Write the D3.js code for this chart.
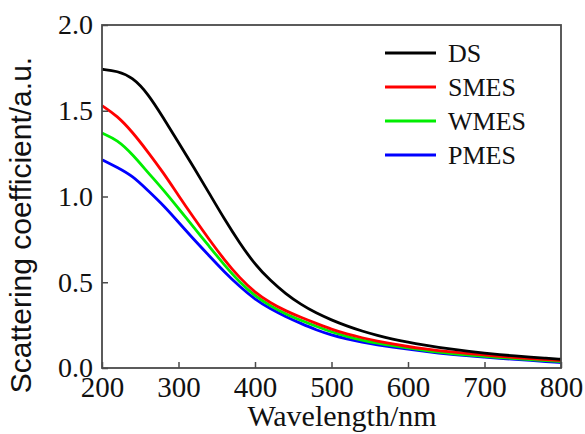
<!DOCTYPE html>
<html><head><meta charset="utf-8">
<script src="https://cdn.jsdelivr.net/npm/d3@7"></script>
<style>body{margin:0;background:#fff}svg{display:block}</style>
</head><body>
<svg id="c" width="585" height="434"></svg>
<script>
const wavelengths = [200,220,240,260,280,300,320,340,360,380,400,420,440,460,480,500,520,540,560,580,600,620,640,660,680,700,720,740,760,780,800];
const DS   = [1.742,1.732,1.695,1.6,1.46,1.315,1.17,1.02,0.868,0.728,0.603,0.51,0.433,0.37,0.32,0.28,0.245,0.215,0.19,0.168,0.15,0.134,0.12,0.108,0.097,0.087,0.078,0.07,0.063,0.057,0.051];
const SMES = [1.53,1.47,1.375,1.26,1.14,1.005,0.875,0.75,0.63,0.525,0.44,0.38,0.333,0.295,0.26,0.226,0.198,0.176,0.156,0.14,0.125,0.112,0.101,0.092,0.084,0.076,0.068,0.061,0.055,0.049,0.044];
const WMES = [1.37,1.33,1.245,1.14,1.04,0.93,0.82,0.71,0.60,0.50,0.42,0.362,0.315,0.278,0.243,0.21,0.184,0.162,0.144,0.13,0.117,0.104,0.092,0.083,0.075,0.068,0.061,0.055,0.049,0.044,0.038];
const PMES = [1.215,1.17,1.12,1.035,0.95,0.85,0.75,0.655,0.56,0.475,0.40,0.345,0.30,0.26,0.222,0.192,0.17,0.15,0.135,0.122,0.11,0.098,0.087,0.078,0.07,0.063,0.056,0.05,0.044,0.038,0.032];
const seriesNames = ["DS","SMES","WMES","PMES"];
const seriesColors = ["#000000","#ff0000","#00ee00","#0000ff"];
const xTicks = [200,300,400,500,600,700,800];
const yTicks = [0.0,0.5,1.0,1.5,2.0];

const allSeries = [DS,SMES,WMES,PMES];
const svg = d3.select("#c");
const L=102, R=561, T=25, B=368;
const x = d3.scaleLinear().domain([200,800]).range([L,R]);
const y = d3.scaleLinear().domain([0,2]).range([B,T]);
const axisColor = "#4a4a4a";
const serif = "'Liberation Serif','Times New Roman',Times,serif";
const sans = "'Liberation Sans',Arial,Helvetica,sans-serif";

// curves
const line = d3.line().x(d=>x(d[0])).y(d=>y(d[1])).curve(d3.curveBasis);
allSeries.slice().reverse().forEach((s,ri)=>{
  const i = allSeries.length-1-ri;
  svg.append("path").datum(wavelengths.map((w,k)=>[w,s[k]]))
    .attr("d",line).attr("fill","none").attr("stroke",seriesColors[i]).attr("stroke-width",2.8);
});

// frame
svg.append("rect").attr("x",L).attr("y",T).attr("width",R-L).attr("height",B-T)
  .attr("fill","none").attr("stroke",axisColor).attr("stroke-width",1.8);

// axes
const xa = svg.append("g").attr("transform",`translate(0,${B})`)
  .call(d3.axisBottom(x).tickValues(xTicks).tickSizeInner(-6).tickSizeOuter(0).tickPadding(12).tickFormat(d3.format("d")));
xa.style("font-family",serif);
xa.select(".domain").remove();
xa.selectAll("line").attr("stroke",axisColor).attr("stroke-width",1.5);
xa.selectAll("text").style("font-family",serif).style("font-size","29px").attr("fill","#111")
  .attr("y",8).attr("dy","0.71em");

const ya = svg.append("g").attr("transform",`translate(${L},0)`)
  .call(d3.axisLeft(y).tickValues(yTicks).tickSizeInner(-6).tickSizeOuter(0).tickPadding(10).tickFormat(d3.format(".1f")));
ya.style("font-family",serif);
ya.select(".domain").remove();
ya.selectAll("line").attr("stroke",axisColor).attr("stroke-width",1.5);
ya.selectAll("text").style("font-family",serif).style("font-size","28px").attr("fill","#111").attr("x",-9);

// titles
svg.append("text").attr("x",342).attr("y",426).attr("text-anchor","middle")
  .style("font-family",serif).style("font-size","30px").attr("fill","#111").text("Wavelength/nm");
svg.append("text").attr("transform","translate(31,225) rotate(-90)").attr("text-anchor","middle")
  .style("font-family",sans).style("font-size","30px").attr("fill","#111")
  .text("Scattering coefficient/a.u.");

// legend
const legY = d3.scalePoint().domain(seriesNames).range([53,155]);
seriesNames.forEach((n,i)=>{
  svg.append("line").attr("x1",385).attr("x2",436).attr("y1",legY(n)).attr("y2",legY(n))
    .attr("stroke",seriesColors[i]).attr("stroke-width",2.8);
  svg.append("text").attr("x",448).attr("y",legY(n)+9).style("font-family",serif)
    .style("font-size","26px").attr("fill","#111").text(n);
});
</script>
</body></html>
